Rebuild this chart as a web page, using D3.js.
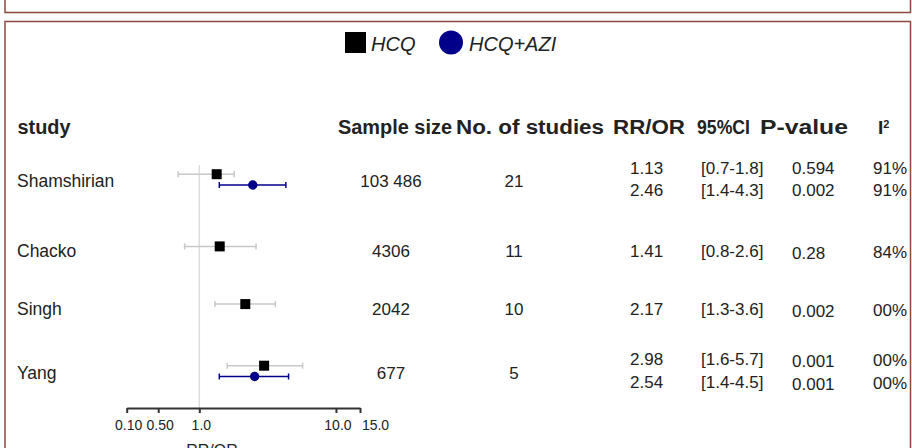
<!DOCTYPE html>
<html>
<head>
<meta charset="utf-8">
<script src="https://cdn.jsdelivr.net/npm/d3@7"></script>
<style>
  body { margin: 0; background: #fff; }
  text { font-family: "Liberation Sans", Arial, sans-serif; fill: #222; }
</style>
</head>
<body>
<div id="vis"></div>
<script>
const FRAME_WIDTH = 912;
const FRAME_HEIGHT = 448;

// data
const studies = ["Shamshirian", "Chacko", "Singh", "Yang"];
const sampleSizes = ["103 486", "4306", "2042", "677"];
const nStudies = ["21", "11", "10", "5"];

// HCQ (square) - plotted estimate and CI
const hcqEst = [1.34, 1.41, 2.17, 2.98];
const hcqLow = [0.7, 0.78, 1.3, 1.6];
const hcqHigh = [1.8, 2.6, 3.6, 5.7];
// HCQ+AZI (circle), only two studies
const aziEst = [2.46, null, null, 2.54];
const aziLow = [1.4, null, null, 1.4];
const aziHigh = [4.3, null, null, 4.5];

// table text per row: [HCQ, HCQ+AZI]
const rrText = [["1.13", "2.46"], ["1.41"], ["2.17"], ["2.98", "2.54"]];
const ciText = [["[0.7-1.8]", "[1.4-4.3]"], ["[0.8-2.6]"], ["[1.3-3.6]"], ["[1.6-5.7]", "[1.4-4.5]"]];
const pText = [["0.594", "0.002"], ["0.28"], ["0.002"], ["0.001", "0.001"]];
const i2Text = [["91%", "91%"], ["84%"], ["00%"], ["00%", "00%"]];

const headers = ["study", "Sample size", "No. of studies", "RR/OR", "95%CI", "P-value"];
const axisTicks = [0.294, 0.5, 1, 10, 15];
const axisTickLabels = ["0.10", "0.50", "1.0", "10.0", "15.0"];

const BORDER = "#8b4a3c";
const NAVY = "#00008b";

const svg = d3.select("#vis")
  .append("svg")
    .attr("width", FRAME_WIDTH)
    .attr("height", FRAME_HEIGHT);

// panel frames
svg.append("rect")
  .attr("x", 5).attr("y", -10).attr("width", 905.5).attr("height", 22.5)
  .attr("fill", "none").attr("stroke", BORDER).attr("stroke-width", 1.5);
svg.append("rect")
  .attr("x", 5).attr("y", 21.5).attr("width", 905.5).attr("height", 440)
  .attr("fill", "none").attr("stroke", BORDER).attr("stroke-width", 1.5);

// legend
svg.append("rect").attr("x", 345).attr("y", 32).attr("width", 21).attr("height", 21).attr("fill", "#000");
svg.append("text").attr("x", 371).attr("y", 51).attr("font-size", 20).attr("font-style", "italic").text("HCQ");
svg.append("circle").attr("cx", 451).attr("cy", 42.5).attr("r", 12).attr("fill", NAVY);
svg.append("text").attr("x", 469).attr("y", 51).attr("font-size", 20).attr("font-style", "italic").text("HCQ+AZI");

// headers
const headerX = [17.5, 338, 456, 613, 697, 760];
const headerW = [53, 114, 148, 72, 53, 88];
svg.selectAll(".hdr")
  .data(headers)
  .enter()
  .append("text")
    .attr("class", "hdr")
    .attr("x", (d, i) => headerX[i])
    .attr("y", 134)
    .attr("font-size", 19.5)
    .attr("font-weight", "bold")
    .attr("textLength", (d, i) => headerW[i])
    .attr("lengthAdjust", "spacingAndGlyphs")
    .text(d => d);
const i2 = svg.append("text").attr("x", 878).attr("y", 134).attr("font-size", 19).attr("font-weight", "bold");
i2.append("tspan").text("I");
i2.append("tspan").attr("font-size", 11).attr("dy", -6).text("2");

// scales: rows with two series take a bit more room
const rowUnits = studies.map((s, i) => aziEst[i] !== null ? 1.32 : 1);
const rowCenters = rowUnits.map((u, i) => d3.sum(rowUnits.slice(0, i)) + u / 2);
const x = d3.scaleLog().domain([0.294, 15]).range([126.7, 360]);
const y = d3.scaleLinear()
  .domain([rowCenters[0], rowCenters[rowCenters.length - 1]])
  .range([179.5, 371]);

const rows = studies.map((s, i) => ({
  study: s, i: i, two: aziEst[i] !== null, yc: y(rowCenters[i])
}));

// reference line at 1
svg.append("line")
  .attr("x1", x(1)).attr("x2", x(1))
  .attr("y1", 165).attr("y2", 408)
  .attr("stroke", "#dcdcdc").attr("stroke-width", 1.5);

// axis
const axis = svg.append("g")
  .attr("transform", "translate(0,408)")
  .call(d3.axisBottom(x)
    .tickValues(axisTicks)
    .tickFormat((d, i) => axisTickLabels[i])
    .tickSize(5)
    .tickSizeOuter(0)
    .tickPadding(7));
axis.select(".domain").attr("stroke", "#333").attr("stroke-width", 2);
axis.selectAll(".tick line").attr("stroke", "#333").attr("stroke-width", 2);
axis.selectAll(".tick text")
  .attr("font-size", 14)
  .attr("font-family", "Liberation Sans, Arial, sans-serif")
  .attr("fill", "#555")
  .attr("dx", (d, i) => i === axisTicks.length - 1 ? 15 : 1.5);

svg.append("text")
  .attr("x", 212).attr("y", 456)
  .attr("text-anchor", "middle")
  .attr("font-size", 16)
  .attr("fill", "#444")
  .text("RR/OR");

// forest marks
function drawCI(g, yy, lo, hi, color) {
  g.append("line").attr("x1", x(lo)).attr("x2", x(hi)).attr("y1", yy).attr("y2", yy)
    .attr("stroke", color).attr("stroke-width", 1.5);
  [lo, hi].forEach(v => {
    g.append("line").attr("x1", x(v)).attr("x2", x(v)).attr("y1", yy - 3).attr("y2", yy + 3)
      .attr("stroke", color).attr("stroke-width", 1.5);
  });
}

const marks = svg.append("g");
rows.forEach(r => {
  const yH = r.two ? r.yc - 5.3 : r.yc;
  drawCI(marks, yH, hcqLow[r.i], hcqHigh[r.i], "#c8c8c8");
  marks.append("rect")
    .attr("x", x(hcqEst[r.i]) - 5).attr("y", yH - 5)
    .attr("width", 10).attr("height", 10)
    .attr("fill", "#000");
  if (r.two) {
    const yA = r.yc + 5.5;
    drawCI(marks, yA, aziLow[r.i], aziHigh[r.i], NAVY);
    marks.append("circle")
      .attr("cx", x(aziEst[r.i])).attr("cy", yA).attr("r", 4.7)
      .attr("fill", NAVY);
  }
});

// study labels and table
const tbl = svg.append("g").attr("font-size", 17);
rows.forEach(r => {
  const lb = r.yc + (r.two ? 7.5 : 11);
  tbl.append("text").attr("x", 17).attr("y", lb).attr("font-size", 17.5).text(r.study);
  tbl.append("text").attr("x", 391).attr("y", lb).attr("text-anchor", "middle").text(sampleSizes[r.i]);
  tbl.append("text").attr("x", 514).attr("y", lb).attr("text-anchor", "middle").text(nStudies[r.i]);

  const lines = r.two ? [r.yc - 6, r.yc + 16.5] : [r.yc + 10.5];
  const pShift = r.i === 0 ? 0 : 2;
  lines.forEach((ly, k) => {
    tbl.append("text").attr("x", 630).attr("y", ly).text(rrText[r.i][k]);
    tbl.append("text").attr("x", 701).attr("y", ly).text(ciText[r.i][k]);
    tbl.append("text").attr("x", 792).attr("y", ly + pShift).text(pText[r.i][k]);
    tbl.append("text").attr("x", 873).attr("y", ly + pShift / 2).text(i2Text[r.i][k]);
  });
});
</script>
</body>
</html>
